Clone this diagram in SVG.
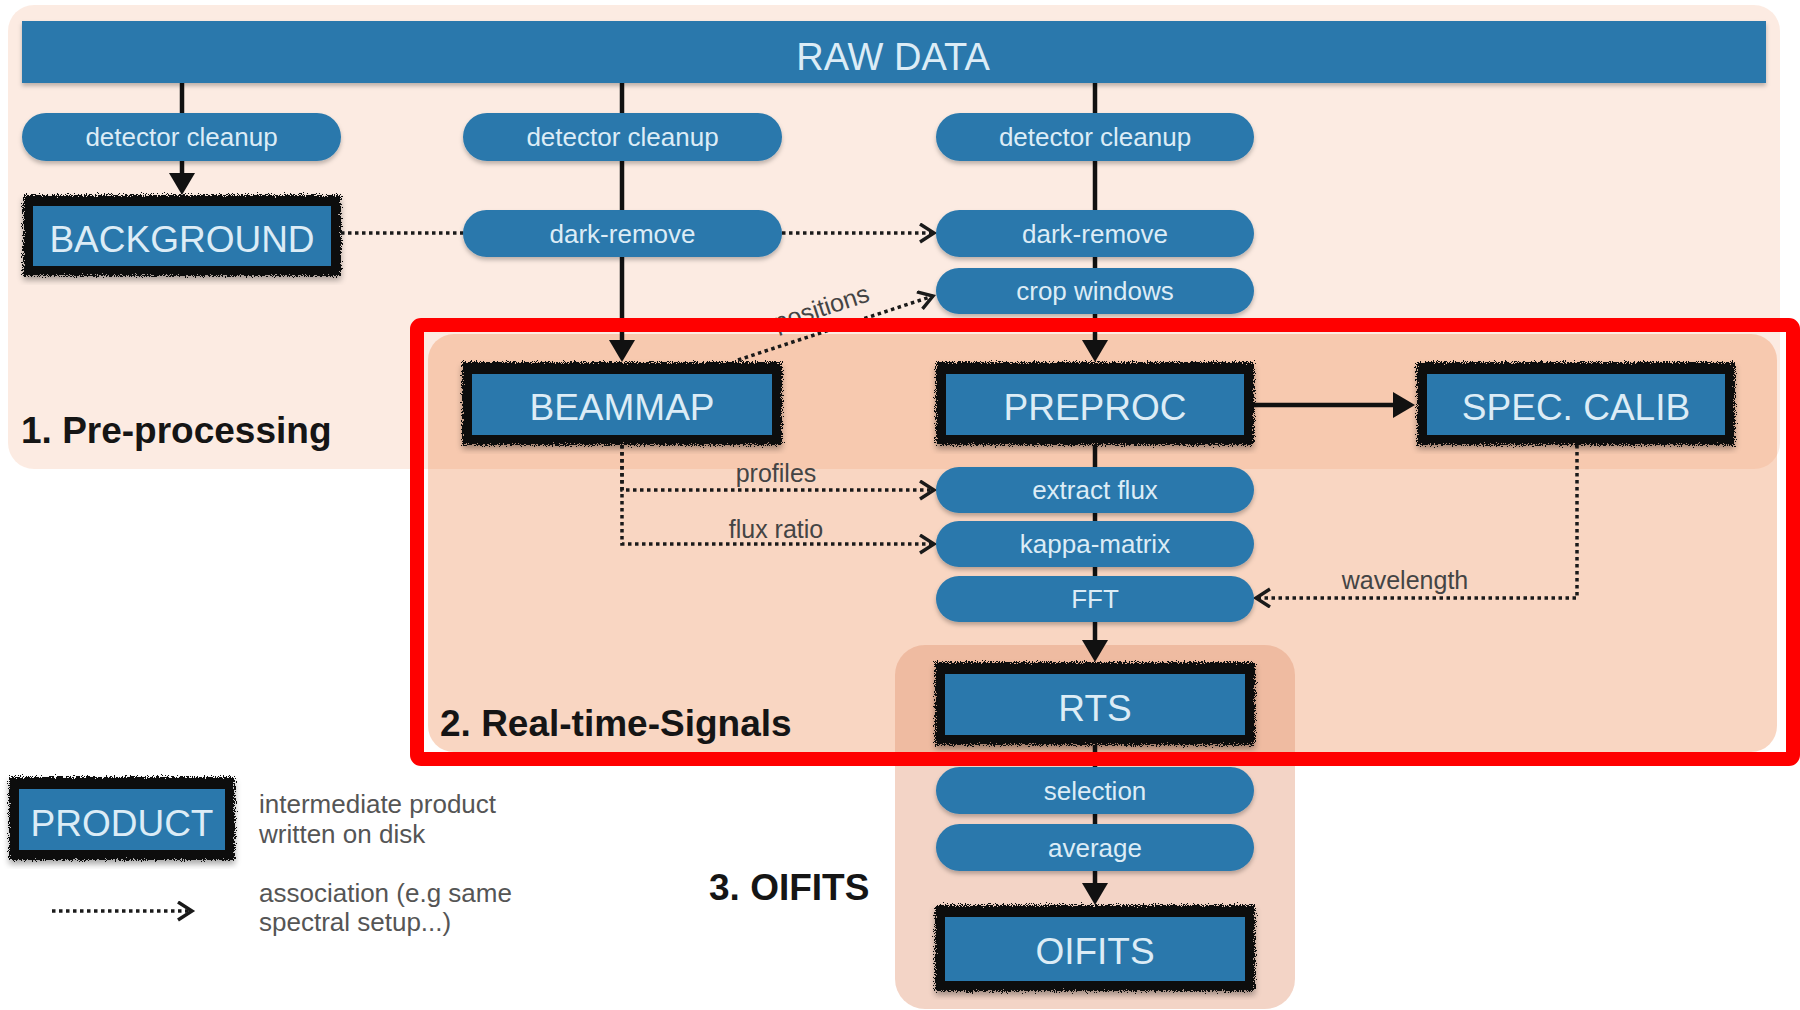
<svg xmlns="http://www.w3.org/2000/svg" width="1800" height="1010" viewBox="0 0 1800 1010">
<defs>
  <style>
    .panel1 { fill: rgb(238,138,81); fill-opacity: 0.17; }
    .panel2 { fill: rgb(238,138,81); fill-opacity: 0.35; }
    .panel3 { fill: rgb(225,147,112); fill-opacity: 0.4; }
    .bar { fill: #2a78ac; }
    .pill { fill: #2a78ac; filter: url(#shadow); }
    .ptxt { font-family: "Liberation Sans", Arial, sans-serif; font-size: 26px; fill: #dcecf6; text-anchor: middle; }
    .btxt { font-family: "Liberation Sans", Arial, sans-serif; font-size: 37px; fill: #dcecf6; text-anchor: middle; }
    .border { fill: #111; filter: url(#rough); }
    .inner { fill: #2a78ac; }
    .solid { fill: none; stroke: #111; stroke-width: 4.5; }
    .dot { fill: none; stroke: #1a1a1a; stroke-width: 3.5; stroke-dasharray: 3.5 3.5; }
    .lbl { font-family: "Liberation Sans", Arial, sans-serif; font-size: 25px; fill: #444; text-anchor: middle; }
    .sec { font-family: "Liberation Sans", Arial, sans-serif; font-size: 37px; font-weight: bold; fill: #151515; }
    .leg { font-family: "Liberation Sans", Arial, sans-serif; font-size: 26px; fill: #555; }
  </style>
  <filter id="rough" x="-5%" y="-10%" width="110%" height="120%">
    <feTurbulence type="fractalNoise" baseFrequency="1.1" numOctaves="2" seed="3" result="n"/>
    <feDisplacementMap in="SourceGraphic" in2="n" scale="9" xChannelSelector="R" yChannelSelector="G" result="d"/>
    <feGaussianBlur in="SourceAlpha" stdDeviation="3" result="b"/>
    <feOffset in="b" dx="0" dy="4" result="o"/>
    <feComponentTransfer in="o" result="s"><feFuncA type="linear" slope="0.35"/></feComponentTransfer>
    <feMerge><feMergeNode in="s"/><feMergeNode in="d"/></feMerge>
  </filter>
  <filter id="shadow" x="-5%" y="-20%" width="110%" height="150%">
    <feDropShadow dx="0" dy="3" stdDeviation="2" flood-color="#000" flood-opacity="0.25"/>
  </filter>
  <marker id="tri" markerUnits="userSpaceOnUse" markerWidth="24" markerHeight="28" refX="12" refY="13" orient="auto">
    <path d="M0,0 L22,13 L0,26 z" fill="#111"/>
  </marker>
  <marker id="chev" markerUnits="userSpaceOnUse" markerWidth="20" markerHeight="24" refX="15" refY="10" orient="auto">
    <path d="M1,1 L15,10 L1,19" fill="none" stroke="#1a1a1a" stroke-width="3.4"/>
  </marker>
</defs>

<rect width="1800" height="1010" fill="#ffffff"/>

<g id="panels">
  <rect id="sec1" class="panel1" x="8" y="5" width="1772" height="464" rx="26"/>
  <rect id="sec2" class="panel2" x="428" y="334" width="1349" height="418" rx="26"/>
  <rect id="sec3" class="panel3" x="895" y="645" width="400" height="364" rx="30"/>
</g>

<g id="connectors">
  <path class="solid" d="M182,83 V113"/>
  <path class="solid" d="M182,161 V185" marker-end="url(#tri)"/>
  <path class="solid" d="M622,83 V113"/>
  <path class="solid" d="M622,161 V210"/>
  <path class="solid" d="M622,257 V352" marker-end="url(#tri)"/>
  <path class="solid" d="M1095,83 V113"/>
  <path class="solid" d="M1095,161 V210"/>
  <path class="solid" d="M1095,257 V268"/>
  <path class="solid" d="M1095,314 V352" marker-end="url(#tri)"/>
  <path class="solid" d="M1095,445 V467"/>
  <path class="solid" d="M1095,513 V521"/>
  <path class="solid" d="M1095,567 V576"/>
  <path class="solid" d="M1095,622 V652" marker-end="url(#tri)"/>
  <path class="solid" d="M1095,745 V767"/>
  <path class="solid" d="M1095,814 V824"/>
  <path class="solid" d="M1095,871 V895" marker-end="url(#tri)"/>
  <path class="solid" d="M1254,405 H1405" marker-end="url(#tri)"/>

  <path class="dot" d="M341,233 H934" marker-end="url(#chev)"/>
  <path class="dot" d="M738,360 L933,296" marker-end="url(#chev)"/>
  <path class="dot" d="M622,445 V490 H934" marker-end="url(#chev)"/>
  <path class="dot" d="M622,445 V544 H934" marker-end="url(#chev)"/>
  <path class="dot" d="M1577,445 V598 H1256" marker-end="url(#chev)"/>
  <path class="dot" d="M52,911 H192" marker-end="url(#chev)"/>

  <text class="lbl" x="776" y="482">profiles</text>
  <text class="lbl" x="776" y="538">flux ratio</text>
  <text class="lbl" x="1405" y="589">wavelength</text>
  <text class="lbl" x="824" y="316" transform="rotate(-18 824 316)">positions</text>
</g>

<g id="raw-data">
  <rect class="bar" x="22" y="21" width="1744" height="62" filter="url(#shadow)"/>
  <text class="btxt" x="893" y="70" style="font-size:38px">RAW DATA</text>
</g>

<g id="detector-cleanup-1">
  <rect class="pill" x="22" y="113" width="319" height="48" rx="24"/>
  <text class="ptxt" x="181.5" y="146">detector cleanup</text>
</g>
<g id="detector-cleanup-2">
  <rect class="pill" x="463" y="113" width="319" height="48" rx="24"/>
  <text class="ptxt" x="622.5" y="146">detector cleanup</text>
</g>
<g id="detector-cleanup-3">
  <rect class="pill" x="936" y="113" width="318" height="48" rx="24"/>
  <text class="ptxt" x="1095" y="146">detector cleanup</text>
</g>
<g id="dark-remove-2">
  <rect class="pill" x="463" y="210" width="319" height="47" rx="23.5"/>
  <text class="ptxt" x="622.5" y="243">dark-remove</text>
</g>
<g id="dark-remove-3">
  <rect class="pill" x="936" y="210" width="318" height="47" rx="23.5"/>
  <text class="ptxt" x="1095" y="243">dark-remove</text>
</g>
<g id="crop-windows">
  <rect class="pill" x="936" y="268" width="318" height="46" rx="23"/>
  <text class="ptxt" x="1095" y="300">crop windows</text>
</g>
<g id="extract-flux">
  <rect class="pill" x="936" y="467" width="318" height="46" rx="23"/>
  <text class="ptxt" x="1095" y="499">extract flux</text>
</g>
<g id="kappa-matrix">
  <rect class="pill" x="936" y="521" width="318" height="46" rx="23"/>
  <text class="ptxt" x="1095" y="553">kappa-matrix</text>
</g>
<g id="fft">
  <rect class="pill" x="936" y="576" width="318" height="46" rx="23"/>
  <text class="ptxt" x="1095" y="608">FFT</text>
</g>
<g id="selection">
  <rect class="pill" x="936" y="767" width="318" height="47" rx="23.5"/>
  <text class="ptxt" x="1095" y="800">selection</text>
</g>
<g id="average">
  <rect class="pill" x="936" y="824" width="318" height="47" rx="23.5"/>
  <text class="ptxt" x="1095" y="857">average</text>
</g>

<g id="background">
  <rect class="border" x="23" y="195" width="318" height="81"/>
  <rect class="inner" x="33" y="206" width="298" height="60"/>
  <text class="btxt" x="182" y="252">BACKGROUND</text>
</g>
<g id="beammap">
  <rect class="border" x="462" y="362" width="320" height="83"/>
  <rect class="inner" x="472" y="374" width="300" height="61"/>
  <text class="btxt" x="622" y="420">BEAMMAP</text>
</g>
<g id="preproc">
  <rect class="border" x="936" y="362" width="318" height="83"/>
  <rect class="inner" x="946" y="374" width="298" height="61"/>
  <text class="btxt" x="1095" y="420">PREPROC</text>
</g>
<g id="spec-calib">
  <rect class="border" x="1417" y="362" width="318" height="83"/>
  <rect class="inner" x="1427" y="374" width="298" height="61"/>
  <text class="btxt" x="1576" y="420">SPEC. CALIB</text>
</g>
<g id="rts">
  <rect class="border" x="935" y="662" width="320" height="83"/>
  <rect class="inner" x="945" y="674" width="300" height="61"/>
  <text class="btxt" x="1095" y="721">RTS</text>
</g>
<g id="oifits">
  <rect class="border" x="935" y="905" width="320" height="86"/>
  <rect class="inner" x="945" y="917" width="300" height="64"/>
  <text class="btxt" x="1095" y="964">OIFITS</text>
</g>

<g id="section-labels">
  <text class="sec" x="21" y="443">1. Pre-processing</text>
  <text class="sec" x="440" y="736">2. Real-time-Signals</text>
  <text class="sec" x="709" y="900">3. OIFITS</text>
</g>

<g id="legend">
  <g id="legend-product">
    <rect class="border" x="9" y="777" width="226" height="83"/>
    <rect class="inner" x="19" y="789" width="206" height="61"/>
    <text class="btxt" x="122" y="836">PRODUCT</text>
  </g>
  <text class="leg" x="259" y="813">intermediate product</text>
  <text class="leg" x="259" y="843">written on disk</text>
  <text class="leg" x="259" y="902">association (e.g same</text>
  <text class="leg" x="259" y="931">spectral setup...)</text>
</g>

<rect id="highlight" x="417" y="325" width="1376" height="434" rx="4" fill="none" stroke="#ff0000" stroke-width="14"/>
</svg>
